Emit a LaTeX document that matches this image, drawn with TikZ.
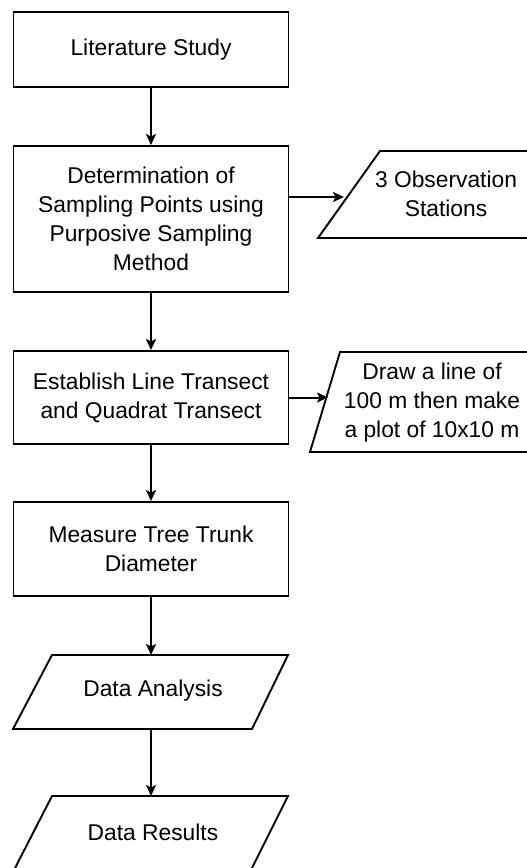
\documentclass[tikz,border=0pt]{standalone}
\usepackage{fontspec}
\setmainfont{Liberation Sans}
\usetikzlibrary{arrows.meta}
\begin{document}
\begin{tikzpicture}[x=1pt,y=-1pt,
  every node/.style={font=\fontsize{22.8}{29}\selectfont},
  proc/.style={draw,line width=1.9pt,minimum width=275pt,inner sep=0pt,align=center},
  iobox/.style={draw,line width=1.9pt,line join=miter},
  txt/.style={align=center,inner sep=0pt},
  conn/.style={line width=2pt,-{Stealth[length=11pt,width=10pt,inset=2.5pt]}}]
\useasboundingbox (0,0) rectangle (527,868);
\clip (0,0) rectangle (527,868);
\fill[white] (0,0) rectangle (527,868);

\node[proc,minimum height=75pt] (b1) at (151,49.5) {Literature Study};
\node[proc,minimum height=146pt] (b2) at (151,219) {Determination of\\Sampling Points using\\Purposive Sampling\\Method};
\node[proc,minimum height=93pt] (b3) at (151,397.5) {Establish Line Transect\\and Quadrat Transect};
\node[proc,minimum height=94pt] (b4) at (151,549) {Measure Tree Trunk\\Diameter};

% data analysis / results (parallelograms)
\draw[iobox] (52,655) -- (288,655) -- (252,729) -- (13,729) -- cycle;
\node[txt] (da) at (153,691) {Data Analysis};
\coordinate (datop) at (151,655);
\coordinate (dabot) at (151,729);
\draw[iobox] (52,796) -- (288,796) -- (250,872) -- (13,872) -- cycle;
\node[txt] (dr) at (153,832) {Data Results};
\coordinate (drtop) at (151,796);

% side outputs
\draw[iobox] (380,151) -- (570,151) -- (570,238) -- (318,238) -- cycle;
\node[txt] (obs) at (446,194) {3 Observation\\Stations};
\coordinate (obsin) at (344,197);
\draw[iobox] (340,352) -- (570,352) -- (570,452) -- (310,452) -- cycle;
\node[txt] (tr) at (432,403) {Draw a line of\\100 m then make\\a plot of 10x10 m};
\coordinate (trin) at (328,397.5);

\draw[conn] (b1.south) -- (b2.north);
\draw[conn] (b2.south) -- (b3.north);
\draw[conn] (b3.south) -- (b4.north);
\draw[conn] (b4.south) -- (datop);
\draw[conn] (dabot) -- (drtop);
\draw[conn] (b2.east |- obsin) -- (obsin);
\draw[conn] (b3.east) -- (trin);
\end{tikzpicture}
\end{document}
